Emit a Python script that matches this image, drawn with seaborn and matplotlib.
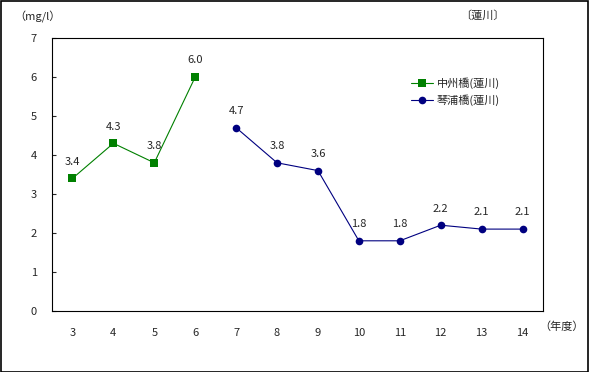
import matplotlib
matplotlib.use("Agg")
import matplotlib.pyplot as plt
import seaborn as sns
import pandas as pd

# data
years = ["3", "4", "5", "6", "7", "8", "9", "10", "11", "12", "13", "14"]
nakasu_years = ["3", "4", "5", "6"]
nakasu_vals = [3.4, 4.3, 3.8, 6.0]
kotoura_years = ["7", "8", "9", "10", "11", "12", "13", "14"]
kotoura_vals = [4.7, 3.8, 3.6, 1.8, 1.8, 2.2, 2.1, 2.1]
series_names = ["中州橋(蓮川)", "琴浦橋(蓮川)"]

sns.set_style("white")
plt.rcParams["font.family"] = ["Noto Sans CJK JP", "DejaVu Sans"]
plt.rcParams["font.size"] = 8

df1 = pd.DataFrame({"x": [years.index(y) for y in nakasu_years], "v": nakasu_vals})
df2 = pd.DataFrame({"x": [years.index(y) for y in kotoura_years], "v": kotoura_vals})

W, H = 589, 372
fig = plt.figure(figsize=(W / 100, H / 100), dpi=100)
ax = fig.add_axes([52 / W, 1 - 311 / H, 491 / W, 273 / H])

sns.lineplot(data=df1, x="x", y="v", ax=ax, color="#008000", marker="s",
             markersize=6, markeredgewidth=0, linewidth=0.8, label=series_names[0])
sns.lineplot(data=df2, x="x", y="v", ax=ax, color="#000080", marker="o",
             markersize=5.5, markeredgewidth=0, linewidth=0.8, label=series_names[1])

# value labels
for d in (df1, df2):
    for xv, yv in zip(d["x"], d["v"]):
        ax.annotate(f"{yv:.1f}", (xv, yv), xytext=(0, 12), textcoords="offset points",
                    ha="center", va="center", fontsize=8)

ax.set_xlim(-0.5, len(years) - 0.5)
ax.set_ylim(0, 7)
ax.set_yticks(range(0, 8))
ax.set_xticks(range(len(years)))
ax.set_xticklabels(years)
ax.set_xticks([i + 0.5 for i in range(len(years) - 1)], minor=True)
ax.tick_params(axis="x", which="major", length=0, pad=12)
ax.tick_params(axis="x", which="minor", direction="in", length=3, width=0.8)
ax.tick_params(axis="y", direction="in", length=3, width=0.8, pad=11, left=True)
ax.set_xlabel("")
ax.set_ylabel("")
for s in ax.spines.values():
    s.set_color("black")
    s.set_linewidth(0.8)

leg = ax.legend(loc="center left", bbox_to_anchor=((411 - 52) / 491, (311 - 91.5) / 273),
                frameon=False, handlelength=2.0, handletextpad=0.3, labelspacing=0.45,
                borderpad=0, borderaxespad=0, fontsize=8)

fig.text(14 / W, 1 - 17 / H, "（mg/l）", ha="left", va="center", fontsize=8)
fig.text(482 / W, 1 - 16 / H, "〔蓮川〕", ha="center", va="center", fontsize=8)
fig.text(562 / W, 1 - 327 / H, "（年度）", ha="center", va="center", fontsize=8)

border = plt.Rectangle((0.5 / W, 0.5 / H), 1 - 1.5 / W, 1 - 1.5 / H,
                       transform=fig.transFigure, fill=False, edgecolor="black",
                       linewidth=1.2)
fig.patches.append(border)

fig.savefig("out.png", dpi=100)
